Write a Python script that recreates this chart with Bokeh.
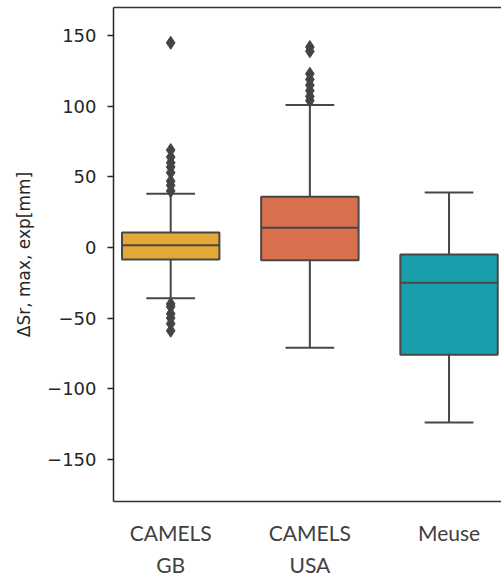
from bokeh.plotting import figure
from bokeh.models import LinearAxis, FixedTicker
from bokeh.embed import file_html
from bokeh.resources import INLINE

# Summary statistics of the storage deficit change per dataset
datasets = ["CAMELS\nGB", "CAMELS\nUSA", "Meuse"]
q1 = [-8.5, -9.0, -76.0]
median = [1.5, 14.0, -25.0]
q3 = [10.5, 36.0, -5.0]
whisker_low = [-36.0, -71.0, -124.0]
whisker_high = [38.0, 101.0, 39.0]
outliers_gb = [145, 69, 64, 60, 57, 53, 47, 44, 40, -40, -42, -47, -50, -54, -59]
outliers_usa = [142, 139, 123, 119, 115, 111, 107, 104]
outliers_meuse = []
box_colors = ["#E3A936", "#D9714F", "#1A9EAB"]
y_ticks = [-150, -100, -50, 0, 50, 100, 150]

edge = "#474747"
box_w = 0.7
cap_w = box_w / 2

p = figure(width=501, height=580, x_range=(-0.411, 2.377), y_range=(-180, 170),
           output_backend="svg", toolbar_location=None,
           min_border_left=113, min_border_right=0, min_border_top=7,
           min_border_bottom=79, outline_line_color=None)
p.xgrid.visible = False
p.ygrid.visible = False

xs = list(range(len(datasets)))

# boxes
p.vbar(x=xs, width=box_w, bottom=q1, top=q3, fill_color=box_colors,
       line_color=edge, line_width=2)
# medians
p.segment(x0=[x - box_w / 2 for x in xs], x1=[x + box_w / 2 for x in xs],
          y0=median, y1=median, line_color=edge, line_width=2)
# whiskers
p.segment(x0=xs, x1=xs, y0=q3, y1=whisker_high, line_color=edge, line_width=2)
p.segment(x0=xs, x1=xs, y0=q1, y1=whisker_low, line_color=edge, line_width=2)
# caps
p.segment(x0=[x - cap_w / 2 for x in xs], x1=[x + cap_w / 2 for x in xs],
          y0=whisker_high, y1=whisker_high, line_color=edge, line_width=2)
p.segment(x0=[x - cap_w / 2 for x in xs], x1=[x + cap_w / 2 for x in xs],
          y0=whisker_low, y1=whisker_low, line_color=edge, line_width=2)

# fliers
for i, vals in enumerate([outliers_gb, outliers_usa, outliers_meuse]):
    if vals:
        p.scatter(x=[i] * len(vals), y=vals, marker="diamond", size=13,
                  fill_color="#444444", line_color="#444444", line_width=1)

# y axis
ya = p.yaxis[0]
ya.ticker = FixedTicker(ticks=y_ticks)
ya.major_label_overrides = {t: (f"\u2212{abs(t)}" if t < 0 else str(t)) for t in y_ticks}
ya.minor_tick_line_color = None
ya.major_tick_in = 0
ya.major_tick_out = 6
ya.major_tick_line_color = "#262626"
ya.major_tick_line_width = 1.3
ya.axis_line_color = "#262626"
ya.axis_line_width = 1.5
ya.major_label_text_font = "DejaVu Sans"
ya.major_label_text_font_size = "18px"
ya.major_label_text_color = "#262626"
ya.major_label_standoff = 11
ya.axis_label = "\u0394Sr, max, exp[mm]"
ya.axis_label_text_font = "DejaVu Sans"
ya.axis_label_text_font_size = "17px"
ya.axis_label_text_font_style = "normal"
ya.axis_label_text_color = "#262626"
ya.axis_label_standoff = 10

# x axis
xa = p.xaxis[0]
xa.ticker = FixedTicker(ticks=xs)
xa.major_label_overrides = {i: name for i, name in enumerate(datasets)}
xa.major_tick_line_color = None
xa.minor_tick_line_color = None
xa.axis_line_color = "#333333"
xa.axis_line_width = 1.5
xa.major_label_text_font = "Lato"
xa.major_label_text_font_size = "21px"
xa.major_label_text_color = "#404040"
xa.major_label_text_line_height = 1.3
xa.major_label_standoff = 12

# top border line
top = LinearAxis(major_tick_line_color=None, minor_tick_line_color=None,
                 major_label_text_font_size="0px", axis_line_color="#333333",
                 axis_line_width=1.5, ticker=FixedTicker(ticks=[]))
p.add_layout(top, "above")

open("out.html", "w").write(file_html(p, INLINE))
